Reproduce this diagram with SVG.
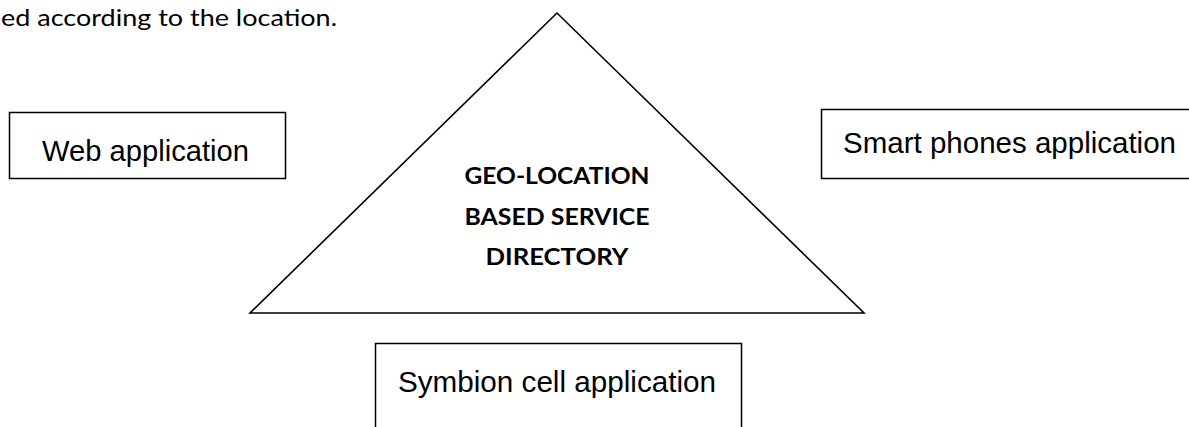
<svg xmlns="http://www.w3.org/2000/svg" width="1189" height="427" viewBox="0 0 1189 427">
  <style>
    .box { fill: #fff; stroke: #000; stroke-width: 1.5; }
    .tri { fill: #fff; stroke: #000; stroke-width: 1.6; stroke-linejoin: miter; }
    .lbl { font-family: "Liberation Sans", Arial, sans-serif; font-size: 29px; fill: #000; }
    .core { font-family: Lato, "Open Sans", sans-serif; font-weight: bold; font-size: 23px; fill: #000; text-anchor: middle; }
    .body { font-family: Lato, "Open Sans", sans-serif; font-size: 24px; fill: #000; }
  </style>
  <rect width="1189" height="427" fill="#fff"/>

  <!-- running text line above the figure -->
  <text class="body" x="1" y="26" textLength="336" lengthAdjust="spacingAndGlyphs">ed according to the location.</text>

  <g id="connectors"></g>

  <!-- central service -->
  <g id="node-directory">
    <polygon class="tri" points="557,13 250,313 864,313"/>
    <text class="core" x="557" y="184" textLength="185" lengthAdjust="spacingAndGlyphs">GEO-LOCATION</text>
    <text class="core" x="557" y="225" textLength="185" lengthAdjust="spacingAndGlyphs">BASED SERVICE</text>
    <text class="core" x="557" y="265" textLength="143" lengthAdjust="spacingAndGlyphs">DIRECTORY</text>
  </g>

  <!-- client applications -->
  <g id="node-web">
    <rect class="box" x="9.5" y="112.5" width="276" height="66"/>
    <text class="lbl" x="42" y="161" textLength="207" lengthAdjust="spacingAndGlyphs">Web application</text>
  </g>

  <g id="node-smartphone">
    <rect class="box" x="821.5" y="109.5" width="380" height="69"/>
    <text class="lbl" x="843" y="153" textLength="333" lengthAdjust="spacingAndGlyphs">Smart phones application</text>
  </g>

  <g id="node-symbian">
    <rect class="box" x="375.5" y="343.5" width="366" height="100"/>
    <text class="lbl" x="398" y="392" textLength="318" lengthAdjust="spacingAndGlyphs">Symbion cell application</text>
  </g>
</svg>
